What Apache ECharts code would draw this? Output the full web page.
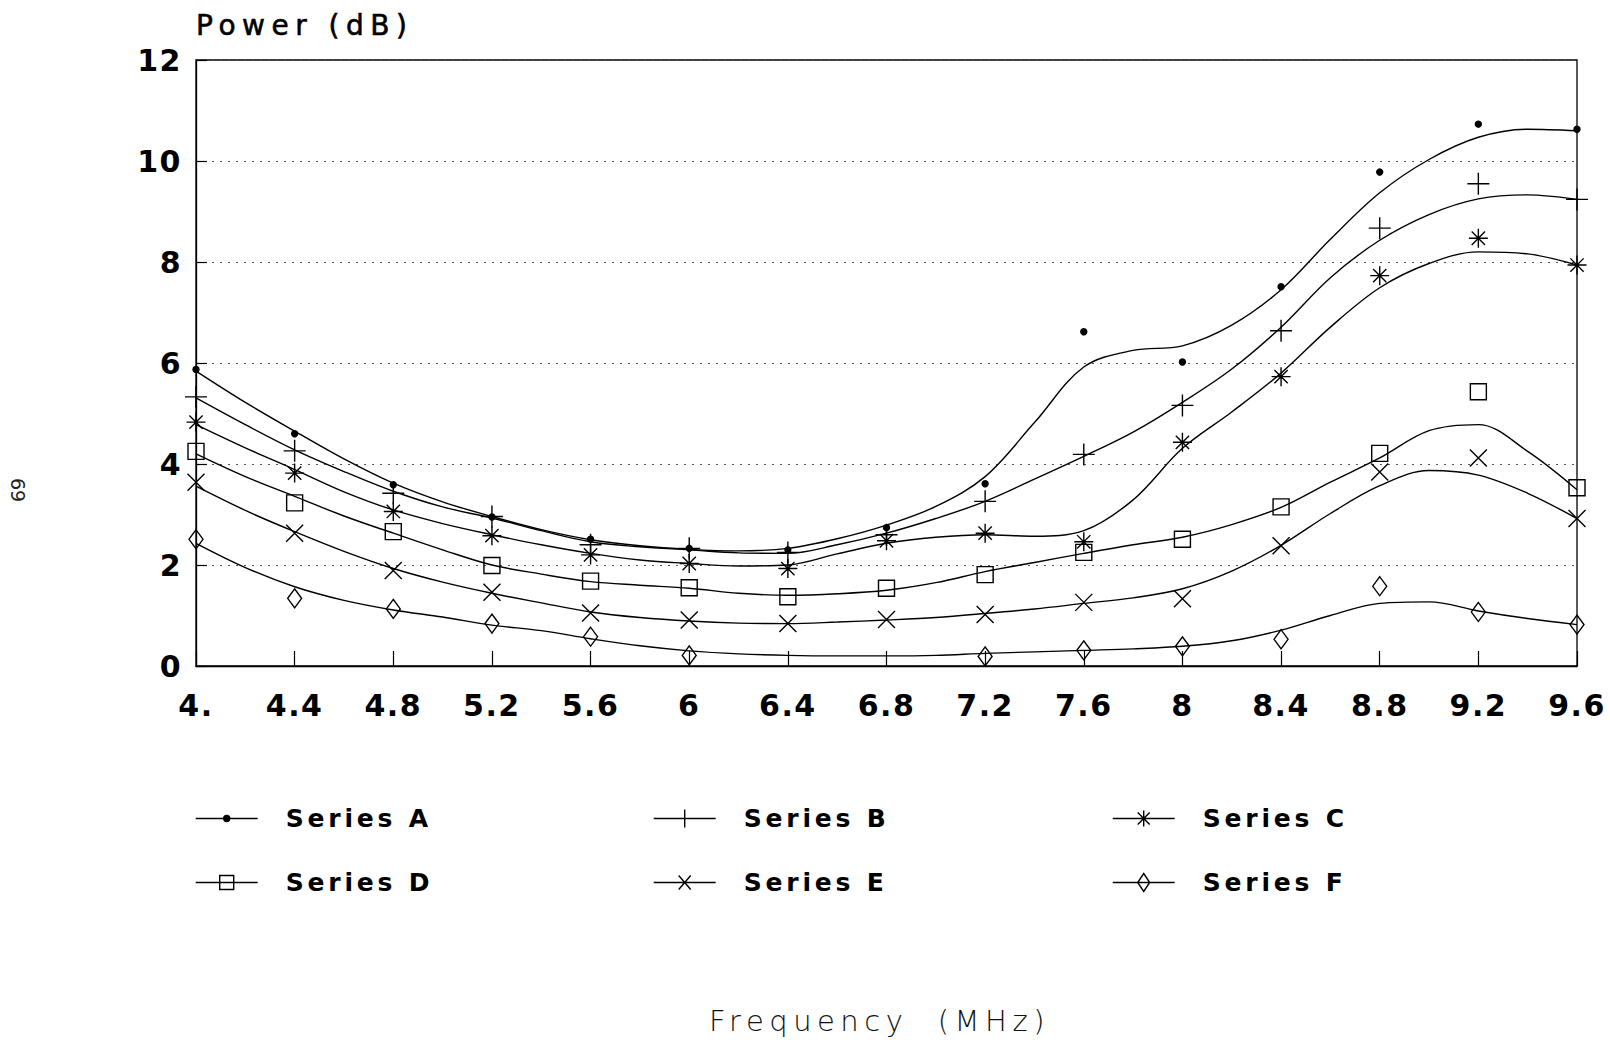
<!DOCTYPE html>
<html>
<head>
<meta charset="utf-8">
<title>Power vs Frequency</title>
<script src="https://cdn.jsdelivr.net/npm/echarts@6/dist/echarts.min.js"></script>
<style>
  html, body { margin: 0; padding: 0; background: #fff; }
  #chart { width: 1610px; height: 1045px; }
  /* wide typewriter-style tracking, keyed on each text group's font size */
  #chart text[style*="28px"] { letter-spacing: 6.5px; }
  #chart text[style*="30px"] { letter-spacing: 1.5px; }
  #chart text[style*="25px"] { letter-spacing: 3.8px; }
  #chart text[style*="29px"] { letter-spacing: 5.5px; }
</style>
</head>
<body>
<div id="chart"></div>
<script>
// Frequency positions of the measured points (MHz)
const xPoints = [4.0, 4.4, 4.8, 5.2, 5.6, 6.0, 6.4, 6.8, 7.2, 7.6, 8.0, 8.4, 8.8, 9.2, 9.6];
// Tick labels along both axes
const xTickLabels = ['4.', '4.4', '4.8', '5.2', '5.6', '6', '6.4', '6.8', '7.2', '7.6', '8', '8.4', '8.8', '9.2', '9.6'];
const yTickLabels = ['0', '2', '4', '6', '8', '10', '12'];

// Measured power (dB) at each frequency
const pointsA = [5.87, 4.60, 3.59, 2.95, 2.51, 2.33, 2.30, 2.74, 3.61, 6.62, 6.02, 7.51, 9.78, 10.73, 10.63];
const pointsB = [5.33, 4.26, 3.42, 2.96, 2.40, 2.33, 2.25, 2.60, 3.26, 4.19, 5.16, 6.64, 8.67, 9.55, 9.24];
const pointsC = [4.83, 3.82, 3.06, 2.58, 2.20, 2.03, 1.93, 2.48, 2.63, 2.46, 4.43, 5.73, 7.73, 8.47, 7.94];
const pointsD = [4.25, 3.23, 2.66, 1.99, 1.68, 1.55, 1.37, 1.54, 1.81, 2.25, 2.51, 3.15, 4.21, 5.43, 3.53];
const pointsE = [3.64, 2.63, 1.89, 1.46, 1.05, 0.91, 0.84, 0.92, 1.02, 1.26, 1.33, 2.38, 3.84, 4.12, 2.92];
const pointsF = [2.51, 1.34, 1.13, 0.84, 0.58, 0.21, null, null, 0.19, 0.31, 0.39, 0.53, 1.58, 1.07, 0.82];

// Fitted curves, read every 0.2 MHz
const xCurve = [4.0, 4.2, 4.4, 4.6, 4.8, 5.0, 5.2, 5.4, 5.6, 5.8, 6.0, 6.2, 6.4, 6.6, 6.8, 7.0, 7.2, 7.4, 7.6, 7.8, 8.0, 8.2, 8.4, 8.6, 8.8, 9.0, 9.2, 9.4, 9.6];
const curveA = [5.84, 5.22, 4.65, 4.10, 3.62, 3.25, 2.96, 2.70, 2.50, 2.38, 2.31, 2.28, 2.33, 2.52, 2.79, 3.16, 3.75, 4.82, 5.92, 6.25, 6.34, 6.75, 7.45, 8.45, 9.37, 10.03, 10.47, 10.63, 10.60];
const curveB = [5.31, 4.78, 4.28, 3.85, 3.46, 3.15, 2.93, 2.68, 2.46, 2.36, 2.30, 2.24, 2.23, 2.40, 2.63, 2.92, 3.26, 3.70, 4.15, 4.63, 5.22, 5.88, 6.71, 7.69, 8.43, 8.94, 9.25, 9.33, 9.24];
const curveC = [4.78, 4.32, 3.89, 3.45, 3.09, 2.82, 2.60, 2.40, 2.23, 2.10, 2.03, 1.98, 2.00, 2.22, 2.43, 2.55, 2.60, 2.57, 2.68, 3.29, 4.31, 5.03, 5.80, 6.71, 7.49, 7.97, 8.20, 8.16, 7.94];
const curveD = [4.20, 3.75, 3.36, 2.97, 2.63, 2.30, 2.00, 1.82, 1.67, 1.60, 1.54, 1.44, 1.40, 1.43, 1.50, 1.65, 1.87, 2.05, 2.23, 2.40, 2.55, 2.80, 3.14, 3.64, 4.12, 4.66, 4.78, 4.25, 3.49];
const curveE = [3.56, 3.08, 2.66, 2.27, 1.93, 1.66, 1.44, 1.25, 1.07, 0.96, 0.89, 0.85, 0.84, 0.87, 0.91, 0.96, 1.04, 1.13, 1.24, 1.35, 1.53, 1.88, 2.39, 3.02, 3.57, 3.87, 3.78, 3.42, 2.92];
const curveF = [2.43, 1.95, 1.57, 1.30, 1.11, 0.97, 0.81, 0.70, 0.54, 0.40, 0.30, 0.24, 0.21, 0.20, 0.20, 0.21, 0.25, 0.28, 0.31, 0.34, 0.39, 0.50, 0.71, 1.00, 1.24, 1.27, 1.09, 0.94, 0.82];

const seriesNames = ['Series A', 'Series B', 'Series C', 'Series D', 'Series E', 'Series F'];

// Marker shapes (stroked outlines)
const SYM_PLUS = 'path://M0 10L20 10M10 0L10 20';
const SYM_STAR = 'path://M0 10L20 10M10 0L10 20M3 3L17 17M17 3L3 17';
const SYM_CROSS = 'path://M0 0L20 20M20 0L0 20';

// Legend keys: a short line with the marker in the middle (62 x 18 box)
const legendIcons = [
  'path://M0 9L62 9M28 9a3 3 0 1 0 6 0a3 3 0 1 0 -6 0Z',
  'path://M0 9L62 9M31 0L31 18',
  'path://M0 9L62 9M31 1L31 17M25 3L37 15M37 3L25 15',
  'path://M0 9L62 9M24 2L38 2L38 16L24 16Z',
  'path://M0 9L62 9M25 2L37 16M37 2L25 16',
  'path://M0 9L62 9M31 0L37 9L31 18L25 9Z'
];
const legendFill = ['#000', 'rgba(0,0,0,0)', 'rgba(0,0,0,0)', 'rgba(0,0,0,0)', 'rgba(0,0,0,0)', 'rgba(0,0,0,0)'];
const legendLeft = [195, 653, 1112, 195, 653, 1112];
const legendTop = [806, 806, 806, 870, 870, 870];

const markerDefs = [
  { symbol: 'circle', size: 6, fill: '#000' },
  { symbol: SYM_PLUS, size: 22, fill: 'rgba(0,0,0,0)' },
  { symbol: SYM_STAR, size: 19, fill: 'rgba(0,0,0,0)' },
  { symbol: 'rect', size: 16, fill: 'rgba(0,0,0,0)' },
  { symbol: SYM_CROSS, size: 17, fill: 'rgba(0,0,0,0)' },
  { symbol: 'diamond', size: [14, 19], fill: 'rgba(0,0,0,0)' }
];

const pointSets = [pointsA, pointsB, pointsC, pointsD, pointsE, pointsF];
const curveSets = [curveA, curveB, curveC, curveD, curveE, curveF];

const series = [];
seriesNames.forEach((name, k) => {
  series.push({
    name: name,
    type: 'line',
    data: xCurve.map((x, i) => [x, curveSets[k][i]]),
    smooth: 0.35,
    symbol: 'none',
    lineStyle: { color: '#000', width: 1.4 },
    itemStyle: { color: '#000' },
    z: 3,
    silent: true
  });
});
seriesNames.forEach((name, k) => {
  const m = markerDefs[k];
  series.push({
    name: name,
    type: 'scatter',
    data: xPoints.map((x, i) => [x, pointSets[k][i]]).filter(p => p[1] != null),
    symbol: m.symbol,
    symbolSize: m.size,
    itemStyle: { color: m.fill, borderColor: '#000', borderWidth: 1.4, opacity: 1 },
    z: 4,
    silent: true
  });
});

const legends = seriesNames.map((name, k) => ({
  data: [{ name: name, icon: legendIcons[k] }],
  left: legendLeft[k],
  top: legendTop[k],
  padding: 0,
  itemWidth: 62,
  itemHeight: 18,
  selectedMode: false,
  itemStyle: { color: legendFill[k], borderColor: '#000', borderWidth: 1.4 },
  textStyle: {
    fontFamily: 'DejaVu Sans',
    fontWeight: 'bold',
    fontSize: 25,
    color: '#000',
    padding: [0, 0, 0, 23]
  }
}));

const chart = echarts.init(document.getElementById('chart'), null, {
  renderer: 'svg', width: 1610, height: 1045
});

chart.setOption({
  animation: false,
  backgroundColor: '#fff',
  grid: {
    left: 196, right: 33, top: 60, bottom: 379,
    outerBoundsMode: 'none',
    show: true, borderColor: '#000', borderWidth: 1.3
  },
  legend: legends,
  xAxis: {
    type: 'value',
    min: 4.0,
    max: 9.6,
    interval: 0.4,
    name: 'Frequency  (MHz)',
    nameLocation: 'middle',
    nameGap: 340,
    nameTextStyle: {
      fontFamily: 'DejaVu Sans', fontWeight: 200, fontSize: 29, color: '#111',
      padding: [0, 14, 0, 0]
    },
    axisLine: { show: true, lineStyle: { color: '#000', width: 1.3 } },
    axisTick: { show: true, inside: true, length: 15, lineStyle: { color: '#000', width: 1.2 } },
    splitLine: { show: false },
    axisLabel: {
      margin: 24,
      fontFamily: 'DejaVu Sans',
      fontWeight: 'bold',
      fontSize: 30,
      color: '#000',
      formatter: function (v) {
        const i = Math.round((v - 4.0) / 0.4);
        return xTickLabels[i] !== undefined ? xTickLabels[i] : '';
      }
    }
  },
  yAxis: {
    type: 'value',
    min: 0,
    max: 12,
    interval: 2,
    name: 'Power (dB)',
    nameLocation: 'end',
    nameGap: 35,
    nameTextStyle: {
      fontFamily: 'DejaVu Sans', fontSize: 28, color: '#000',
      textBorderColor: '#000', textBorderWidth: 0.6,
      align: 'left', verticalAlign: 'middle'
    },
    axisLine: { show: true, lineStyle: { color: '#000', width: 1.3 } },
    axisTick: { show: true, inside: true, length: 11, lineStyle: { color: '#000', width: 1.2 } },
    splitLine: { show: true, lineStyle: { color: '#555', width: 1, type: [2, 6] } },
    axisLabel: {
      margin: 14,
      fontFamily: 'DejaVu Sans',
      fontWeight: 'bold',
      fontSize: 30,
      color: '#000',
      formatter: function (v) {
        const i = Math.round(v / 2);
        return yTickLabels[i] !== undefined ? yTickLabels[i] : '';
      }
    }
  },
  graphic: [{
    type: 'text',
    left: 8,
    top: 478,
    rotation: -Math.PI / 2,
    style: { text: '69', fontFamily: 'DejaVu Sans', fontSize: 19, fill: '#222' }
  }],
  series: series
});
</script>
</body>
</html>
